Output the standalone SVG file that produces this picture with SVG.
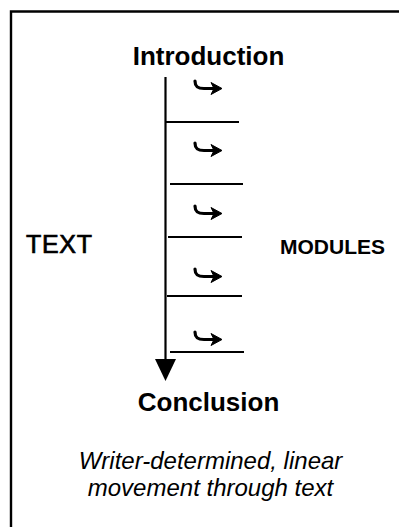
<svg xmlns="http://www.w3.org/2000/svg" width="399" height="527" viewBox="0 0 399 527">
<style>
.t{font-family:"Liberation Sans",Arial,sans-serif;fill:#000}
.b{font-weight:bold}
.ln{stroke:#000;stroke-width:2.2;fill:none}
.hk{stroke:#000;stroke-width:3.2;fill:none;stroke-linecap:round}
</style>
<defs>
<g id="hook">
<path class="hk" d="M-26,-7 C-26,-1 -23,0.5 -17,0.5 H-6"/>
<polygon points="-10,-5.5 1,0.5 -10,6.5 -7,0.5" fill="#000" stroke="#000" stroke-width="1" stroke-linejoin="round"/>
</g>
</defs>
<rect width="399" height="527" fill="#fff"/>
<g id="frame">
<path d="M11,527 V11.5 H399" stroke="#000" stroke-width="2.4" fill="none"/>
</g>
<g id="introduction"><text class="t b" x="208.5" y="65" font-size="26" text-anchor="middle">Introduction</text></g>
<g id="conclusion"><text class="t b" x="208.5" y="411" font-size="26" text-anchor="middle">Conclusion</text></g>
<g id="text-label"><text class="t" x="26" y="253" font-size="25" textLength="66" stroke="#000" stroke-width="0.7">TEXT</text></g>
<g id="modules-label"><text class="t b" x="332.5" y="254" font-size="21" text-anchor="middle">MODULES</text></g>
<g id="caption">
<text class="t" x="210.5" y="469" font-size="24" font-style="italic" text-anchor="middle">Writer-determined, linear</text>
<text class="t" x="210.5" y="496" font-size="24" font-style="italic" text-anchor="middle">movement through text</text>
</g>
<g id="modules">
<g id="module1"><use href="#hook" x="221" y="88"/><line class="ln" x1="165" y1="122" x2="239" y2="122"/></g>
<g id="module2"><use href="#hook" x="221" y="150"/><line class="ln" x1="170" y1="184" x2="243" y2="184"/></g>
<g id="module3"><use href="#hook" x="221" y="213"/><line class="ln" x1="168" y1="237" x2="242" y2="237"/></g>
<g id="module4"><use href="#hook" x="221" y="276"/><line class="ln" x1="167" y1="296" x2="242" y2="296"/></g>
<g id="module5"><use href="#hook" x="221" y="339"/><line class="ln" x1="170" y1="352" x2="244" y2="352"/></g>
</g>
<g id="connectors">
<line class="ln" x1="165.5" y1="77" x2="165.5" y2="362"/>
<polygon points="155,359 176,359 165.5,381" fill="#000"/>
</g>
</svg>
